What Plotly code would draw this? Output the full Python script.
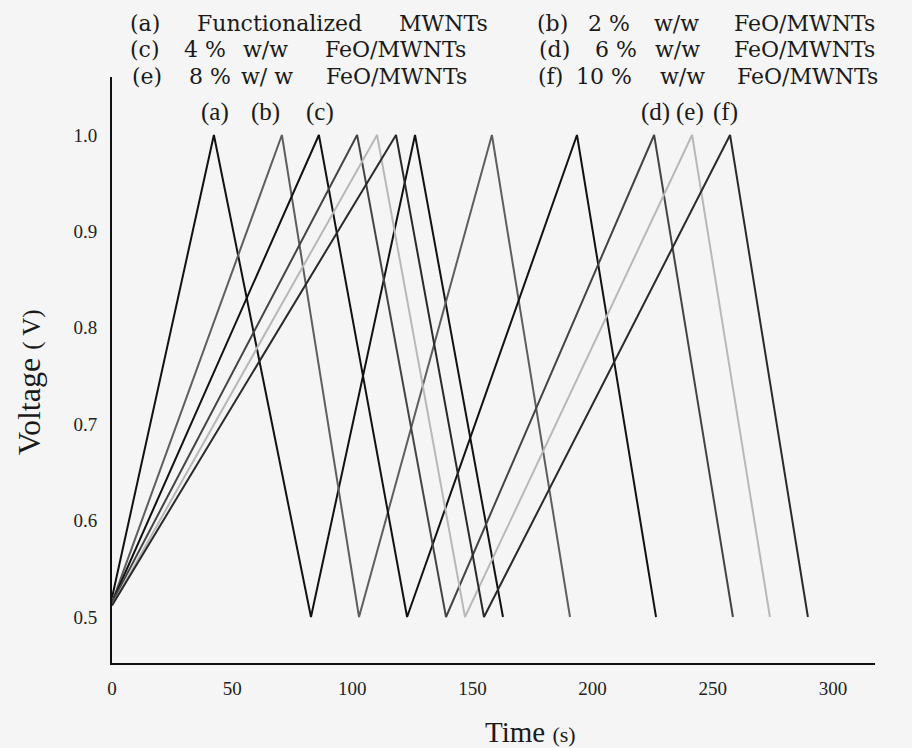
import plotly.graph_objects as go

# Galvanostatic charge/discharge cycles, two cycles per electrode material
samples = ["(a)", "(b)", "(c)", "(d)", "(e)", "(f)"]
start_voltage = [0.52, 0.515, 0.515, 0.515, 0.512, 0.512]   # V at t = 0
peak1_time = [42.4, 70.7, 86.1, 102.0, 110.3, 118.2]        # s, first charge end
valley1_time = [82.8, 102.8, 122.8, 139.0, 146.9, 154.8]    # s, first discharge end
peak2_time = [126.1, 158.1, 193.5, 225.6, 241.4, 257.2]     # s, second charge end
end2_time = [162.7, 190.6, 226.4, 258.4, 273.8, 289.6]      # s, second discharge end
upper_voltage = 1.0
lower_voltage = 0.5

line_colors = ["#111111", "#5e5e5e", "#111111", "#444444", "#b8b8b8", "#2a2a2a"]

# legend rows, split into words so each word sits in its column
word_groups = [
    [["(a)", "Functionalized", "MWNTs"], ["(b)", "2 %", "w/w", "FeO/MWNTs"]],
    [["(c)", "4 %", "w/w", "FeO/MWNTs"], ["(d)", "6 %", "w/w", "FeO/MWNTs"]],
    [["(e)", "8 %", "w/ w", "FeO/MWNTs"], ["(f)", "10 %", "w/w", "FeO/MWNTs"]],
]

x_ticks = [0, 50, 100, 150, 200, 250, 300]
y_ticks = [0.5, 0.6, 0.7, 0.8, 0.9, 1.0]

# plot-area geometry in pixels
W, H = 912, 748
L, R, T, B = 112, 875, 77, 663
SERIF = "Liberation Serif, Times New Roman, serif"
WIDE_SERIF = "DejaVu Serif, Liberation Serif, serif"


def px(xp, yp):
    return (xp - L) / (R - L), (B - yp) / (B - T)


fig = go.Figure()
for i, name in enumerate(samples):
    t = [0, peak1_time[i], valley1_time[i], peak2_time[i], end2_time[i]]
    v = [start_voltage[i], upper_voltage, lower_voltage, upper_voltage, lower_voltage]
    fig.add_trace(go.Scatter(
        x=t, y=v, mode="lines", name=name,
        line=dict(color=line_colors[i], width=2),
        showlegend=False, cliponaxis=False,
    ))

annotations = []

word_centers = [
    [[144.5, 279.5, 443.5], [552.5, 609, 676, 804]],
    [[144.5, 204.5, 265, 395], [554.5, 615.5, 677.5, 804]],
    [[147, 210, 266.5, 396], [550, 604, 682.5, 807.5]],
]
row_y = [23.5, 49.5, 76]
for r, row in enumerate(word_groups):
    for c, words in enumerate(row):
        for w, xc in zip(words, word_centers[r][c]):
            xa, ya = px(xc, row_y[r])
            annotations.append(dict(
                x=xa, y=ya, xref="paper", yref="paper", text=w, showarrow=False,
                xanchor="center", yanchor="middle",
                font=dict(family=WIDE_SERIF, size=22, color="#1a1a1a"),
            ))

# curve tags above the peaks
tag_x = [215, 265, 320, 655, 690, 725]
for name, xc in zip(samples, tag_x):
    xa, ya = px(xc, 112)
    annotations.append(dict(
        x=xa, y=ya, xref="paper", yref="paper", text=name, showarrow=False,
        xanchor="center", yanchor="middle",
        font=dict(family=SERIF, size=25, color="#1a1a1a"),
    ))

# axis titles
xa, ya = px(530, 732)
annotations.append(dict(
    x=xa, y=ya, xref="paper", yref="paper", showarrow=False,
    text="Time <span style='font-size:22px'>(s)</span>",
    xanchor="center", yanchor="middle",
    font=dict(family=SERIF, size=29, color="#1a1a1a"),
))
xa, ya = px(29, 382)
annotations.append(dict(
    x=xa, y=ya, xref="paper", yref="paper", showarrow=False, textangle=-90,
    text="Voltage <span style='font-size:25px'>( V)</span>",
    xanchor="center", yanchor="middle",
    font=dict(family=SERIF, size=32, color="#1a1a1a"),
))

fig.update_layout(
    width=W, height=H,
    margin=dict(l=L, r=W - R, t=T, b=H - B),
    paper_bgcolor="#f5f5f5", plot_bgcolor="#f5f5f5",
    annotations=annotations,
    showlegend=False,
)
fig.update_xaxes(
    range=[0, (R - L) / 2.403], tickvals=x_ticks, ticks="",
    showgrid=False, zeroline=False, showline=True, linecolor="#111111", linewidth=2,
    tickfont=dict(family=SERIF, size=19, color="#222222"), ticklabelstandoff=7,
)
fig.update_yaxes(
    range=[lower_voltage - (B - 617) / 964, upper_voltage + (135 - T) / 964],
    tickvals=y_ticks, tickformat=".1f", ticks="",
    showgrid=False, zeroline=False, showline=True, linecolor="#111111", linewidth=2,
    tickfont=dict(family=SERIF, size=19, color="#222222"), ticklabelstandoff=9,
)

fig.write_html("out.html")
